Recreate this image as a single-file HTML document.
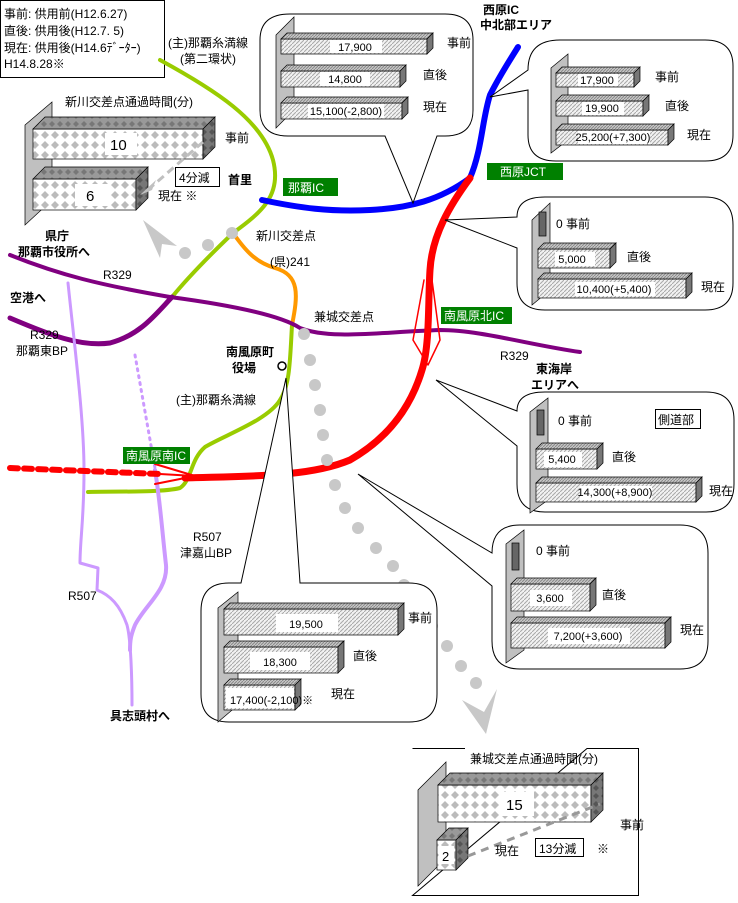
<!DOCTYPE html>
<html><head><meta charset="utf-8"><style>
html,body{margin:0;padding:0;background:#fff}
svg{display:block}
text{font-family:"Liberation Sans","Noto Sans CJK JP",sans-serif;font-size:12px;fill:#000}
.b{font-weight:bold}
.n{font-size:11px}
.w{fill:#fff}
</style></head><body>
<svg width="738" height="903" viewBox="0 0 738 903" xmlns="http://www.w3.org/2000/svg">
<defs>
<pattern id="h" width="4" height="4" patternUnits="userSpaceOnUse"><rect width="4" height="4" fill="#f2f2f2"/><path d="M0,4 L4,0" stroke="#a8a8a8" stroke-width="1"/></pattern>
<pattern id="ht" width="3" height="3" patternUnits="userSpaceOnUse"><rect width="3" height="3" fill="#c8c8c8"/><path d="M0,3 L3,0" stroke="#888" stroke-width="1"/></pattern>
<pattern id="dm" width="10" height="10" patternUnits="userSpaceOnUse"><rect width="10" height="10" fill="#fff"/><path d="M5,1 L9,5 L5,9 L1,5Z" fill="#bbb"/></pattern>
<pattern id="dmt" width="8" height="8" patternUnits="userSpaceOnUse"><rect width="8" height="8" fill="#999"/><path d="M4,1 L7,4 L4,7 L1,4Z" fill="#777"/></pattern>
<pattern id="dmr" width="8" height="8" patternUnits="userSpaceOnUse"><rect width="8" height="8" fill="#777"/><path d="M4,1 L7,4 L4,7 L1,4Z" fill="#555"/></pattern>
</defs>

<!-- legend -->
<rect x="0.5" y="0.5" width="164" height="77" fill="#fff" stroke="#000"/>
<text x="4" y="18">事前: 供用前(H12.6.27)</text>
<text x="4" y="35">直後: 供用後(H12.7. 5)</text>
<text x="4" y="52">現在: 供用後(H14.6ﾃﾞｰﾀｰ)</text>
<text x="4" y="68">H14.8.28※</text>

<!-- roads -->
<g fill="none" stroke-linecap="round" stroke-linejoin="round">
<path d="M160,60 C215,90 262,120 273,160 C282,195 262,212 233,233 C210,255 190,275 172,297" stroke="#99cc00" stroke-width="4"/>
<path d="M233,233 C245,250 255,262 275,268 C300,275 298,295 292,325" stroke="#ff9900" stroke-width="4"/>
<path d="M292,325 C290,360 290,385 280,400 C268,420 225,435 205,447 C190,460 192,480 180,488 C160,493 110,491 88,492" stroke="#99cc00" stroke-width="4"/>
<path d="M10,255 C60,275 100,285 170,297 C230,305 280,315 300,328 C330,340 380,332 440,330 C480,330 530,345 580,352" stroke="#800080" stroke-width="4"/>
<path d="M10,318 C50,335 80,347 110,343 C140,335 155,315 172,297" stroke="#800080" stroke-width="5"/>
<path d="M68,283 C75,350 84,420 84,470 C84,520 80,540 80,563 L98,568 L97,590 C110,595 120,605 127,625 C131,640 132,680 132,705" stroke="#cc99ff" stroke-width="3"/>
<path d="M135,355 L155,468" stroke="#cc99ff" stroke-width="3" stroke-dasharray="2,5"/>
<path d="M155,470 C160,500 162,530 166,565 C168,590 145,605 135,625 C131,635 130,640 130,650" stroke="#cc99ff" stroke-width="4"/>
<path d="M262,200 C300,208 330,212 370,210 C410,208 440,200 470,178" stroke="#0000ff" stroke-width="6"/>
<path d="M470,178 C482,150 482,120 490,95 C500,75 510,60 518,47" stroke="#0000ff" stroke-width="6"/>
<path d="M470,178 C450,205 432,235 430,270 C428,300 430,345 422,370 C410,410 385,440 350,460 C310,477 250,476 185,478" stroke="#ff0000" stroke-width="7"/>
<path d="M10,468 L160,474" stroke="#ff0000" stroke-width="6" stroke-dasharray="8,6"/>
<path d="M155,464 L195,476 L155,484 M160,474 L195,476" stroke="#ff0000" stroke-width="2"/>
<path d="M424,280 L413,340 L428,365 L440,340 L432,280" stroke="#ff0000" stroke-width="1.5"/>
</g>

<!-- gray dots and arrows -->
<g fill="#c8c8c8">
<circle cx="232" cy="233" r="6"/><circle cx="208" cy="245" r="6"/><circle cx="185" cy="253" r="6"/>
<polygon points="143,220 177,246 162,244 160,258"/>
<circle cx="304" cy="334" r="6"/><circle cx="310" cy="360" r="6"/><circle cx="315" cy="385" r="6"/><circle cx="320" cy="410" r="6"/><circle cx="323" cy="435" r="6"/><circle cx="327" cy="460" r="6"/><circle cx="335" cy="485" r="6"/><circle cx="345" cy="508" r="6"/><circle cx="358" cy="528" r="6"/><circle cx="376" cy="548" r="6"/><circle cx="393" cy="566" r="6"/><circle cx="404" cy="585" r="6"/><circle cx="417" cy="606" r="6"/><circle cx="432" cy="626" r="6"/><circle cx="447" cy="646" r="6"/><circle cx="461" cy="666" r="6"/><circle cx="476" cy="683" r="6"/>
<polygon points="462,700 484,712 497,689 486,734"/>
</g>
<circle cx="282" cy="366" r="4" fill="#fff" stroke="#000" stroke-width="1.5"/>

<!-- green IC labels -->
<rect x="283" y="178" width="55" height="18" fill="#008000"/><text x="288" y="192" class="w">那覇IC</text>
<rect x="487" y="163" width="76" height="17" fill="#008000"/><text x="500" y="176" class="w">西原JCT</text>
<rect x="441" y="307" width="71" height="17" fill="#008000"/><text x="444" y="320" class="w">南風原北IC</text>
<rect x="123" y="447" width="67" height="17" fill="#008000"/><text x="126" y="460" class="w">南風原南IC</text>

<!-- map labels -->
<text x="168" y="47">(主)那覇糸満線</text>
<text x="180" y="63">(第二環状)</text>
<text x="483" y="14" class="b">西原IC</text>
<text x="480" y="29" class="b">中北部エリア</text>
<text x="256" y="240">新川交差点</text>
<text x="270" y="266">(県)241</text>
<text x="314" y="321">兼城交差点</text>
<text x="103" y="279">R329</text>
<text x="30" y="339">R329</text>
<text x="16" y="355">那覇東BP</text>
<text x="500" y="360">R329</text>
<text x="45" y="240" class="b">県庁</text>
<text x="18" y="256" class="b">那覇市役所へ</text>
<text x="10" y="302" class="b">空港へ</text>
<text x="226" y="356" class="b">南風原町</text>
<text x="232" y="372" class="b">役場</text>
<text x="176" y="404">(主)那覇糸満線</text>
<text x="536" y="373" class="b">東海岸</text>
<text x="531" y="389" class="b">エリアへ</text>
<text x="193" y="541">R507</text>
<text x="180" y="557">津嘉山BP</text>
<text x="68" y="600">R507</text>
<text x="110" y="720" class="b">具志頭村へ</text>

<!-- callout bubbles -->
<g fill="#fff" stroke="#000" stroke-width="1">
<path d="M290,14 L445,14 Q473,14 473,40 L473,110 Q473,136 445,136 L437,136 L413,203 L385,136 L288,136 Q260,136 260,110 L260,40 Q260,14 290,14Z"/>
<path d="M560,40 L705,40 Q733,40 733,66 L733,135 Q733,161 705,161 L556,161 Q528,161 528,135 L528,90 L490,97 L528,70 Q528,40 560,40Z"/>
<path d="M545,197 L705,197 Q733,197 733,225 L733,283 Q733,310 705,310 L545,310 Q517,310 517,283 L517,248 L445,220 L517,217 Q517,197 545,197Z"/>
<path d="M545,392 L706,392 Q734,392 734,420 L734,484 Q734,512 706,512 L545,512 Q517,512 517,484 L517,446 L436,380 L517,411 Q517,392 545,392Z"/>
<path d="M520,525 L680,525 Q708,525 708,553 L708,641 Q708,669 680,669 L520,669 Q492,669 492,641 L492,586 L358,474 L492,553 Q492,525 520,525Z"/>
<path d="M300,583 L409,583 Q437,583 437,611 L437,694 Q437,722 409,722 L229,722 Q201,722 201,694 L201,611 Q201,583 229,583 L241,583 L286,378 L300,583Z"/>
</g>

<!-- walls -->
<g fill="#c0c0c0" stroke="#000" stroke-width="0.7">
<polygon points="276,35 294,17 294,110 276,128"/>
<polygon points="551,68 568,54 568,140 551,153"/>
<polygon points="532,220 550,203 550,290 532,305"/>
<polygon points="530,412 548,398 548,500 530,513"/>
<polygon points="506,544 524,530 524,650 506,663"/>
<polygon points="218,608 238,592 238,705 218,722"/>
<polygon points="25,125 52,102 52,200 25,225"/>
<polygon points="418,790 446,762 446,858 418,886"/>
</g>
<g fill="#666" stroke="#000" stroke-width="0.7">
<rect x="539" y="212" width="7" height="24"/><rect x="537" y="410" width="7" height="25"/><rect x="512" y="543" width="7" height="27"/>
</g>

<!-- traffic bars -->
<g stroke="#000" stroke-width="0.7">
<!-- b1 -->
<rect x="281" y="39" width="146" height="15" fill="url(#h)"/><polygon points="281,39 287,33 433,33 427,39" fill="url(#ht)"/><polygon points="427,39 433,33 433,48 427,54" fill="#777"/>
<rect x="281" y="71" width="119" height="16" fill="url(#h)"/><polygon points="281,71 287,65 406,65 400,71" fill="url(#ht)"/><polygon points="400,71 406,65 406,81 400,87" fill="#777"/>
<rect x="281" y="103" width="121" height="16" fill="url(#h)"/><polygon points="281,103 287,97 408,97 402,103" fill="url(#ht)"/><polygon points="402,103 408,97 408,113 402,119" fill="#777"/>
<!-- b2 -->
<rect x="556" y="73" width="78" height="14" fill="url(#h)"/><polygon points="556,73 562,67 640,67 634,73" fill="url(#ht)"/><polygon points="634,73 640,67 640,81 634,87" fill="#777"/>
<rect x="556" y="101" width="87" height="15" fill="url(#h)"/><polygon points="556,101 562,95 649,95 643,101" fill="url(#ht)"/><polygon points="643,101 649,95 649,110 643,116" fill="#777"/>
<rect x="556" y="130" width="112" height="15" fill="url(#h)"/><polygon points="556,130 562,124 674,124 668,130" fill="url(#ht)"/><polygon points="668,130 674,124 674,139 668,145" fill="#777"/>
<!-- b3 -->
<rect x="538" y="249" width="72" height="19" fill="url(#h)"/><polygon points="538,249 544,243 616,243 610,249" fill="url(#ht)"/><polygon points="610,249 616,243 616,262 610,268" fill="#777"/>
<rect x="538" y="279" width="148" height="19" fill="url(#h)"/><polygon points="538,279 544,273 692,273 686,279" fill="url(#ht)"/><polygon points="686,279 692,273 692,292 686,298" fill="#777"/>
<!-- b4 -->
<rect x="536" y="449" width="61" height="20" fill="url(#h)"/><polygon points="536,449 542,443 603,443 597,449" fill="url(#ht)"/><polygon points="597,449 603,443 603,463 597,469" fill="#777"/>
<rect x="536" y="483" width="160" height="19" fill="url(#h)"/><polygon points="536,483 542,477 702,477 696,483" fill="url(#ht)"/><polygon points="696,483 702,477 702,496 696,502" fill="#777"/>
<!-- b5 -->
<rect x="511" y="584" width="79" height="27" fill="url(#h)"/><polygon points="511,584 517,578 596,578 590,584" fill="url(#ht)"/><polygon points="590,584 596,578 596,605 590,611" fill="#777"/>
<rect x="511" y="623" width="154" height="25" fill="url(#h)"/><polygon points="511,623 517,617 671,617 665,623" fill="url(#ht)"/><polygon points="665,623 671,617 671,642 665,648" fill="#777"/>
<!-- b6 -->
<rect x="224" y="609" width="174" height="26" fill="url(#h)"/><polygon points="224,609 230,603 404,603 398,609" fill="url(#ht)"/><polygon points="398,609 404,603 404,629 398,635" fill="#777"/>
<rect x="224" y="647" width="114" height="26" fill="url(#h)"/><polygon points="224,647 230,641 344,641 338,647" fill="url(#ht)"/><polygon points="338,647 344,641 344,667 338,673" fill="#777"/>
<rect x="224" y="685" width="71" height="25" fill="url(#h)"/><polygon points="224,685 230,679 301,679 295,685" fill="url(#ht)"/><polygon points="295,685 301,679 301,704 295,710" fill="#777"/>
</g>
<g fill="#fff">
<rect x="330" y="40" width="52" height="13"/><rect x="320" y="72" width="50" height="14"/><rect x="308" y="104" width="76" height="14"/>
<rect x="578" y="74" width="40" height="12"/><rect x="582" y="102" width="42" height="13"/><rect x="578" y="131" width="72" height="13"/>
<rect x="555" y="252" width="40" height="14"/><rect x="575" y="282" width="80" height="14"/>
<rect x="544" y="452" width="38" height="15"/><rect x="580" y="486" width="72" height="14"/>
<rect x="530" y="590" width="42" height="16"/><rect x="548" y="628" width="82" height="16"/>
<rect x="276" y="614" width="62" height="18"/><rect x="250" y="652" width="60" height="18"/><rect x="226" y="688" width="68" height="20"/>
</g>
<g class="n" text-anchor="middle">
<text x="355" y="51" class="n">17,900</text><text x="345" y="83" class="n">14,800</text><text x="346" y="115" class="n">15,100(-2,800)</text>
<text x="597" y="84" class="n">17,900</text><text x="602" y="112" class="n">19,900</text><text x="613" y="141" class="n">25,200(+7,300)</text>
<text x="572" y="263" class="n">5,000</text><text x="614" y="293" class="n">10,400(+5,400)</text>
<text x="562" y="463" class="n">5,400</text><text x="615" y="496" class="n">14,300(+8,900)</text>
<text x="550" y="602" class="n">3,600</text><text x="588" y="640" class="n">7,200(+3,600)</text>
<text x="306" y="628" class="n">19,500</text><text x="280" y="666" class="n">18,300</text>
</g>
<text x="230" y="704" class="n">17,400(-2,100)※</text>

<!-- bar side labels -->
<text x="447" y="47">事前</text><text x="423" y="79">直後</text><text x="423" y="111">現在</text>
<text x="655" y="81">事前</text><text x="665" y="110">直後</text><text x="687" y="139">現在</text>
<text x="556" y="228">0 事前</text><text x="627" y="261">直後</text><text x="701" y="291">現在</text>
<text x="558" y="425">0 事前</text><text x="612" y="461">直後</text><text x="709" y="495">現在</text>
<rect x="655.5" y="409.5" width="45" height="19" fill="#fff" stroke="#000"/><text x="658" y="424">側道部</text>
<text x="536" y="555">0 事前</text><text x="602" y="599">直後</text><text x="680" y="634">現在</text>
<text x="408" y="622">事前</text><text x="353" y="660">直後</text><text x="331" y="698">現在</text>

<!-- Shinkawa travel time -->
<text x="65" y="106">新川交差点通過時間(分)</text>
<g stroke="#000" stroke-width="0.7">
<rect x="33" y="129" width="170" height="30" fill="url(#dm)"/><polygon points="33,129 45,117 215,117 203,129" fill="url(#dmt)"/><polygon points="203,129 215,117 215,147 203,159" fill="url(#dmr)"/>
<rect x="33" y="179" width="103" height="31" fill="url(#dm)"/><polygon points="33,179 45,167 148,167 136,179" fill="url(#dmt)"/><polygon points="136,179 148,167 148,198 136,210" fill="url(#dmr)"/>
</g>
<rect x="105" y="133" width="32" height="22" fill="#fff"/><rect x="75" y="184" width="35" height="22" fill="#fff"/>
<text x="110" y="150" style="font-size:15px">10</text><text x="86" y="201" style="font-size:15px">6</text>
<path d="M203,142 L150,188" stroke="#c0c0c0" stroke-width="3" stroke-dasharray="8,5" fill="none"/>
<polygon points="140,195 156,180 152,190" fill="#c0c0c0"/>
<text x="225" y="142">事前</text>
<rect x="175.5" y="167.5" width="44" height="19" fill="#fff" stroke="#000"/><text x="179" y="182">4分減</text>
<text x="228" y="184" class="b">首里</text>
<text x="158" y="200">現在 ※</text>

<!-- Kanegusuku travel time -->
<path d="M412.5,748.5 L465,748.5 M587,748.5 L638.5,748.5 L638.5,895.5 L412.5,895.5 Z" fill="none" stroke="#000"/>
<text x="470" y="763">兼城交差点通過時間(分)</text>
<g stroke="#000" stroke-width="0.7">
<rect x="438" y="785" width="153" height="37" fill="url(#dm)"/><polygon points="438,785 450,773 603,773 591,785" fill="url(#dmt)"/><polygon points="591,785 603,773 603,810 591,822" fill="url(#dmr)"/>
<rect x="437" y="840" width="19" height="30" fill="url(#dm)"/><polygon points="437,840 449,828 468,828 456,840" fill="url(#dmt)"/><polygon points="456,840 468,828 468,858 456,870" fill="url(#dmr)"/>
</g>
<rect x="500" y="792" width="34" height="24" fill="#fff"/><rect x="440" y="846" width="14" height="18" fill="#fff"/>
<text x="506" y="810" style="font-size:15px">15</text><text x="442" y="861" style="font-size:13px">2</text>
<path d="M468,856 L600,804" stroke="#999" stroke-width="3" stroke-dasharray="8,6" fill="none"/>
<text x="620" y="829">事前</text>
<text x="495" y="855">現在</text>
<rect x="535.5" y="838.5" width="48" height="18" fill="#fff" stroke="#000"/><text x="539" y="853">13分減</text>
<text x="597" y="853">※</text>
</svg>
</body></html>
